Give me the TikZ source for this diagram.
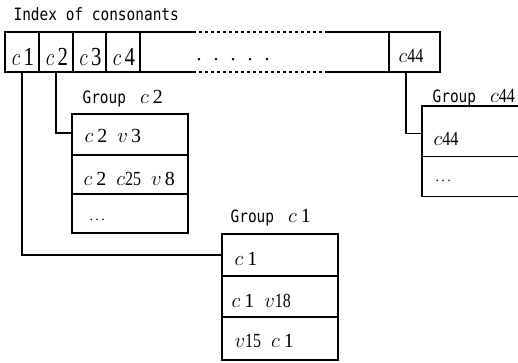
\documentclass[tikz,border=0pt]{standalone}
\usepackage{fontspec}
\setmainfont{Liberation Serif}
\newfontfamily\labelfont{DejaVu Sans Mono}
\newcommand{\twodig}[1]{\scalebox{0.8}[1]{#1}}
\newcommand{\gap}{\hspace{4pt}}
\newcommand{\wordgap}{\hspace{10pt}}
\newcommand{\monotext}[1]{\scalebox{0.85}[1]{\labelfont\fontsize{17pt}{17pt}\selectfont #1}}
\newcommand{\indextext}[1]{\scalebox{0.8}[1]{\fontsize{26pt}{26pt}\selectfont #1}}
\newcommand{\grouptag}[1]{\hspace{14pt}\rmfamily\fontsize{20pt}{20pt}\selectfont#1}
\tikzset{
  boxcell/.style={draw, rectangle, inner sep=0pt, outer sep=0pt, anchor=north west, minimum height=40pt},
  rowcell/.style={draw, rectangle, inner sep=0pt, outer sep=0pt, anchor=north west, minimum width=116pt},
  bigtext/.style={inner sep=0pt, anchor=base},
  rowtext/.style={inner sep=0pt, anchor=base west, font=\fontsize{20pt}{20pt}\selectfont},
  headtext/.style={inner sep=0pt, anchor=base west},
  link/.style={draw, line width=1.2pt},
}
\begin{document}
\begin{tikzpicture}[x=1pt, y=-1pt, line width=1.2pt]
\useasboundingbox (0,0) rectangle (518,362);

% title
\node[headtext] (title) at (13,20) {\monotext{Index of consonants}};

% index row
\node[boxcell, minimum width=34pt] (i1) at (5,32) {};
\node[boxcell, minimum width=34pt] (i2) at (39,32) {};
\node[boxcell, minimum width=33pt] (i3) at (73,32) {};
\node[boxcell, minimum width=34pt] (i4) at (106,32) {};
\node[boxcell, minimum width=51pt] (i44) at (389,32) {};
\node[bigtext] (t1) at (23,65) {\indextext{$c$\,1}};
\node[bigtext] (t2) at (57,65) {\indextext{$c$\,2}};
\node[bigtext] (t3) at (90.5,65) {\indextext{$c$\,3}};
\node[bigtext] (t4) at (124,65) {\indextext{$c$\,4}};
\node[rowtext, anchor=base] (t44) at (411,62) {$c$\twodig{44}};

% open middle part of the index
\draw (i4.north east) -- ++(53,0) coordinate (mt);
\draw (i4.south east) -- ++(53,0) coordinate (mb);
\draw[dash pattern=on 3pt off 3pt] (mt) -- ++(132,0) coordinate (mt2);
\draw[dash pattern=on 3pt off 3pt] (mb) -- ++(132,0) coordinate (mb2);
\draw (mt2) -- (i44.north west);
\draw (mb2) -- (i44.south west);
\foreach \x [count=\k] in {199,216,233,250,267}
  \node[inner sep=0pt, anchor=base, font=\fontsize{20pt}{20pt}\selectfont] (dot\k) at (\x,60) {.};

% group c2
\node[headtext] (h2) at (82,103) {\monotext{Group}\grouptag{$c$\gap2}};
\node[rowcell, minimum height=41pt] (g2a) at (72,114) {};
\node[rowcell, minimum height=39pt] (g2b) at (72,155) {};
\node[rowcell, minimum height=39pt] (g2c) at (72,194) {};
\node[rowtext] (g2at) at (84,142) {$c$\gap2\wordgap$v$\,3};
\node[rowtext] (g2bt) at (83,185) {$c$\gap2\wordgap$c$\twodig{25}\wordgap$v$\,8};
\node[rowtext, font=\fontsize{14pt}{14pt}\selectfont] (g2ct) at (89,220) {.\,.\,.};

% group c1
\node[headtext] (h1) at (230,222) {\monotext{Group}\grouptag{$c$\gap1}};
\node[rowcell, minimum height=42pt] (g1a) at (222,234) {};
\node[rowcell, minimum height=41pt] (g1b) at (222,276) {};
\node[rowcell, minimum height=43pt] (g1c) at (222,317) {};
\node[rowtext] (g1at) at (234,265) {$c$\gap1};
\node[rowtext] (g1bt) at (231,307) {$c$\gap1\wordgap$v$\twodig{18}};
\node[rowtext] (g1ct) at (234,347) {$v$\twodig{15}\wordgap$c$\gap1};

% group c44 (runs off the right edge)
\node[headtext] (h44) at (432,102) {\monotext{Group}\grouptag{$c$\twodig{44}}};
\node[rectangle, inner sep=0pt, anchor=north west, minimum width=100pt, minimum height=49pt] (g44a) at (422,106) {};
\node[rectangle, inner sep=0pt, anchor=north west, minimum width=100pt, minimum height=40pt] (g44b) at (422,155) {};
\draw (g44a.north east) -- (g44a.north west) -- (g44b.south west) -- (g44b.south east);
\draw (g44a.south west) -- (g44a.south east);
\node[rowtext] (g44at) at (433,145) {$c$\twodig{44}};
\node[rowtext, font=\fontsize{14pt}{14pt}\selectfont] (g44bt) at (435,181) {.\,.\,.};

% links from the index to the groups
\draw[link] (i1.south) |- (g1a.west);
\draw[link] (i2.south) |- ([yshift=1.5pt]g2a.west);
\draw[link] ([xshift=-8.5pt]i44.south) |- ([yshift=-2.5pt]g44a.west);
\end{tikzpicture}
\end{document}
